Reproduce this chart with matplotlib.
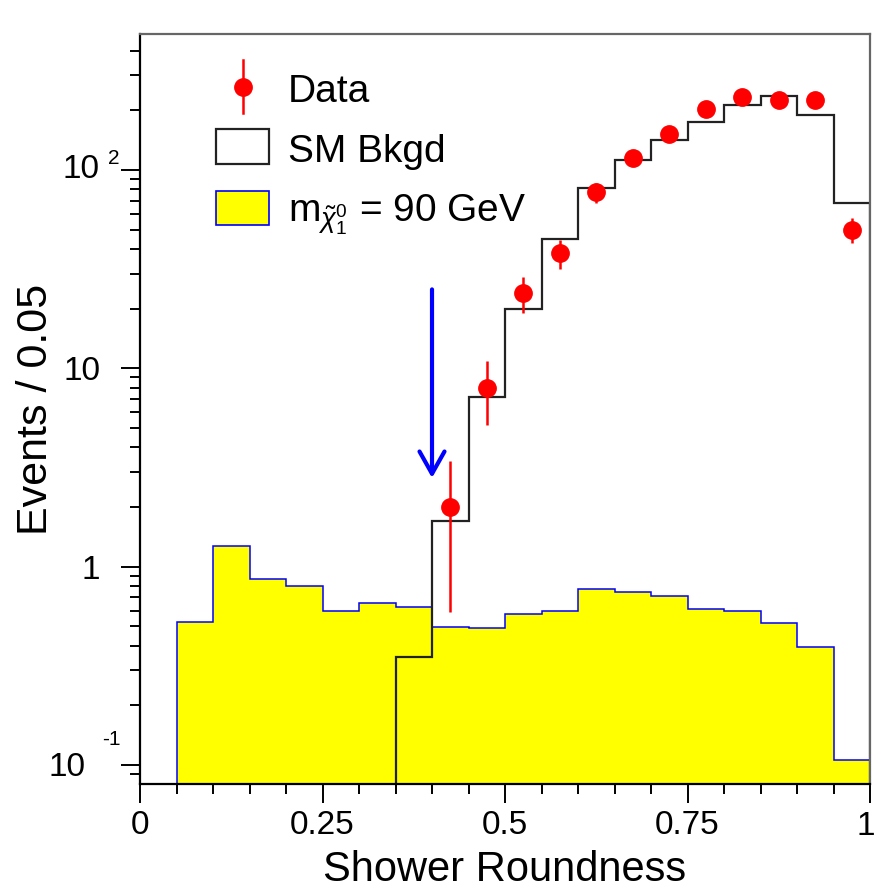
import numpy as np
import matplotlib
matplotlib.use("Agg")
import matplotlib.pyplot as plt
from matplotlib.patches import Rectangle
from matplotlib.lines import Line2D

plt.rcParams['font.family'] = ['Liberation Sans', 'DejaVu Sans']
plt.rcParams['mathtext.fontset'] = 'custom'
plt.rcParams['mathtext.rm'] = 'Liberation Sans'
plt.rcParams['mathtext.it'] = 'Liberation Sans:italic'
plt.rcParams['mathtext.bf'] = 'Liberation Sans:bold'

# ---------------- data ----------------
# signal histogram (m_chi = 90 GeV), bins of width 0.05 from 0.05 to 1.0
sig_edges = [0.05, 0.10, 0.15, 0.20, 0.25, 0.30, 0.35, 0.40, 0.45, 0.50,
             0.55, 0.60, 0.65, 0.70, 0.75, 0.80, 0.85, 0.90, 0.95, 1.00]
sig_values = [0.528, 1.27, 0.864, 0.802, 0.600, 0.653, 0.628, 0.498, 0.489,
              0.577, 0.600, 0.769, 0.748, 0.712, 0.612, 0.598, 0.519, 0.395, 0.106]

# SM background histogram, bins from 0.35 to 1.0
bkg_edges = [0.35, 0.40, 0.45, 0.50, 0.55, 0.60, 0.65, 0.70, 0.75, 0.80,
             0.85, 0.90, 0.95, 1.00]
bkg_values = [0.352, 1.69, 7.2, 19.9, 44.8, 81.0, 112.0, 142.0, 174.0,
              213.0, 236.0, 190.0, 68.5]

# data points
data_x = [0.425, 0.475, 0.525, 0.575, 0.625, 0.675, 0.725, 0.775,
          0.825, 0.875, 0.925, 0.975]
data_y = [2, 8, 24, 38, 77, 115, 151, 203, 234, 225, 225, 50]
data_err = [1.41, 2.83, 4.90, 6.16, 8.77, 10.7, 12.3, 14.2, 15.3, 15.0, 15.0, 7.07]

# cut arrow
cut_value = 0.40
arrow_top = 25.0
arrow_tip = 2.8

x_ticks = [0, 0.25, 0.5, 0.75, 1]
x_ticklabels = ['0', '0.25', '0.5', '0.75', '']
x_last_label = '1'
y_ticks = [0.1, 1, 10, 100]

# ---------------- figure ----------------
fig = plt.figure(figsize=(8.75, 8.92), dpi=100)
ax = fig.add_axes([0.16, 0.1211, 0.8343, 0.8408])
ax.set_yscale('log')
ax.set_xlim(0, 1)
ax.set_ylim(0.0802, 485)

ax.stairs(sig_values, sig_edges, baseline=1e-3, fill=True,
          facecolor='#ffff00', edgecolor='#0000ff', linewidth=1.1, zorder=2)
ax.stairs(bkg_values, bkg_edges, baseline=1e-3, fill=False,
          color='#222222', linewidth=1.6, zorder=3)
ax.errorbar(data_x, data_y, yerr=data_err, fmt='o', color='#ff0000',
            markersize=12.5, elinewidth=1.8, capsize=0, zorder=4, clip_on=False)

ax.annotate('', xy=(cut_value, arrow_tip), xytext=(cut_value, arrow_top),
            arrowprops=dict(arrowstyle='->, head_length=16, head_width=9',
                            mutation_scale=1, color='#0000ff', lw=3.0,
                            shrinkA=0, shrinkB=0), zorder=5)

# ---------------- axes styling ----------------
for s in ['left', 'bottom']:
    ax.spines[s].set_linewidth(1.6)
    ax.spines[s].set_color('black')
for s in ['top', 'right']:
    ax.spines[s].set_linewidth(1.6)
    ax.spines[s].set_color('#666666')
for s in ax.spines.values():
    s.set_zorder(6)

ax.set_xticks(x_ticks)
ax.set_xticklabels(x_ticklabels)
ax.set_xticks(np.arange(0, 1.0001, 0.05), minor=True)
ax.tick_params(axis='x', which='major', direction='out', length=14, width=1.4,
               labelsize=24, pad=5)
ax.tick_params(axis='x', which='minor', direction='out', length=7, width=1.4)
# last x label kept inside the canvas
ax.annotate(x_last_label, xy=(1, 0), xycoords='axes fraction',
            xytext=(3.4, -19.4), textcoords='offset points',
            ha='right', va='top', fontsize=24)

ax.set_yticks(y_ticks)
ax.set_yticklabels(['', '1', '10', ''])
ax.tick_params(axis='y', which='major', direction='out', length=14, width=1.4,
               labelsize=24, pad=14.5)
ax.tick_params(axis='y', which='minor', direction='out', length=7, width=1.4,
               labelleft=False)

# ROOT-style power labels
ax.annotate('10', xy=(0, 100), xycoords=('axes fraction', 'data'),
            xytext=(-29.5, 0), textcoords='offset points',
            ha='right', va='center', fontsize=24)
ax.annotate('2', xy=(0, 100), xycoords=('axes fraction', 'data'),
            xytext=(-23, 4.3), textcoords='offset points',
            ha='left', va='baseline', fontsize=15)
ax.annotate('10', xy=(0, 0.1), xycoords=('axes fraction', 'data'),
            xytext=(-39, -1.8), textcoords='offset points',
            ha='right', va='center', fontsize=24)
ax.annotate('-1', xy=(0, 0.1), xycoords=('axes fraction', 'data'),
            xytext=(-27.4, 14.4), textcoords='offset points',
            ha='left', va='baseline', fontsize=15)

ax.set_xlabel('Shower Roundness', fontsize=30)
ax.xaxis.set_label_coords(0.5, -0.088)
ax.set_ylabel('Events / 0.05', fontsize=31)
ax.yaxis.set_label_coords(-0.115, 0.5)

# ---------------- legend ----------------
T = ax.transAxes
ax.add_line(Line2D([0.1411, 0.1411], [0.8947, 0.9653], transform=T,
                   color='#ff0000', lw=1.8, zorder=7))
ax.add_line(Line2D([0.1411], [0.9287], transform=T, marker='o', markersize=12.5,
                   color='#ff0000', lw=0, zorder=7))
ax.add_patch(Rectangle((0.1041, 0.8267), 0.0726, 0.0466, transform=T,
                       facecolor='white', edgecolor='#222222', lw=1.6, zorder=7))
ax.add_patch(Rectangle((0.1041, 0.7453), 0.0726, 0.0454, transform=T,
                       facecolor='#ffff00', edgecolor='#0000ff', lw=1.2, zorder=7))
ax.text(0.2027, 0.9093, 'Data', transform=T, fontsize=28, va='baseline', zorder=7)
ax.text(0.2027, 0.8297, 'SM Bkgd', transform=T, fontsize=28, va='baseline', zorder=7)
ax.text(0.2027, 0.7497, r'm$_{\tilde{\chi}^{0}_{1}}$ = 90 GeV', transform=T,
        fontsize=28, va='baseline', zorder=7)

fig.savefig('out.png', dpi=100)
